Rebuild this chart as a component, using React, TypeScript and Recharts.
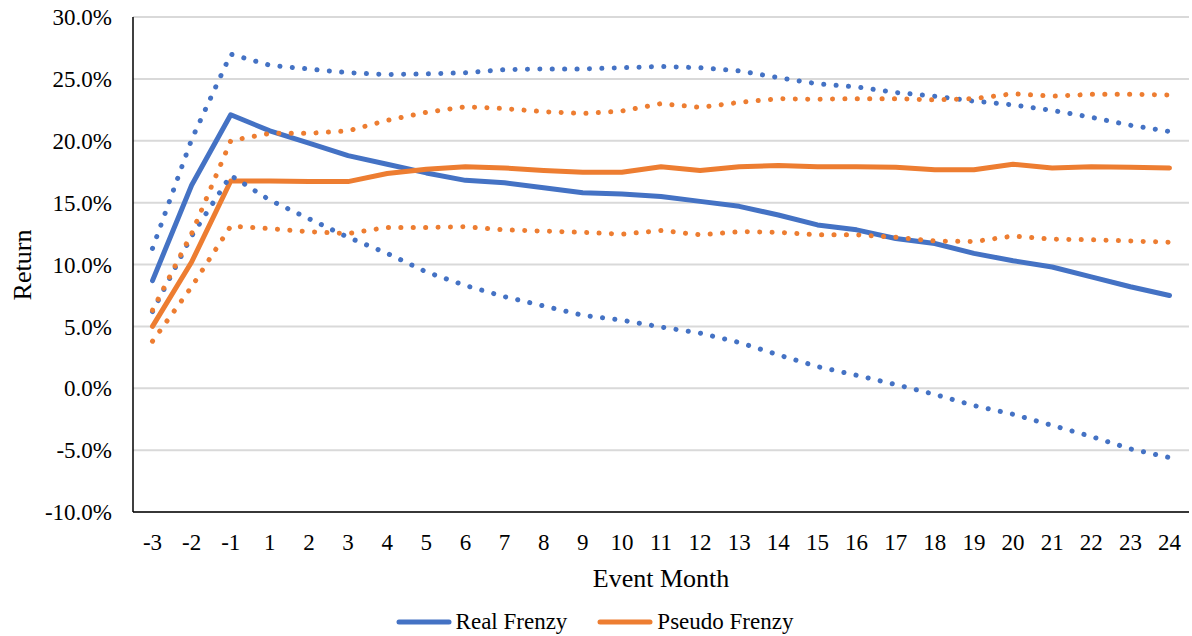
import React from "react";
import {
  LineChart,
  Line,
  XAxis,
  YAxis,
  CartesianGrid,
  Legend,
  Label,
} from "recharts";

// event months (x categories)
const months = [
  "-3", "-2", "-1", "1", "2", "3", "4", "5", "6", "7", "8", "9", "10", "11",
  "12", "13", "14", "15", "16", "17", "18", "19", "20", "21", "22", "23", "24",
];

// returns in %
const realMean = [
  8.7, 16.4, 22.1, 20.8, 19.8, 18.8, 18.1, 17.4, 16.8, 16.6, 16.2, 15.8, 15.7, 15.5,
  15.1, 14.7, 14.0, 13.2, 12.8, 12.1, 11.7, 10.9, 10.3, 9.8, 9.0, 8.2, 7.5,
];
const realUpper = [
  11.3, 20.1, 27.0, 26.1, 25.8, 25.5, 25.35, 25.4, 25.5, 25.75, 25.8, 25.8, 25.9, 26.0,
  25.9, 25.65, 25.1, 24.6, 24.35, 23.9, 23.6, 23.2, 22.9, 22.45, 21.9, 21.25, 20.75,
];
const realLower = [
  6.2, 12.3, 17.2, 15.2, 13.7, 12.2, 10.9, 9.4, 8.3, 7.4, 6.65, 5.9, 5.5, 4.95,
  4.45, 3.7, 2.7, 1.75, 1.05, 0.3, -0.5, -1.4, -2.1, -3.0, -3.9, -4.9, -5.6,
];
const pseudoMean = [
  5.0, 10.2, 16.75, 16.75, 16.7, 16.7, 17.35, 17.7, 17.9, 17.8, 17.6, 17.45, 17.45, 17.9,
  17.6, 17.9, 18.0, 17.9, 17.9, 17.85, 17.65, 17.65, 18.1, 17.8, 17.9, 17.85, 17.8,
];
const pseudoUpper = [
  6.3, 12.5, 20.0, 20.6, 20.6, 20.8, 21.65, 22.3, 22.75, 22.6, 22.35, 22.2, 22.4, 23.0,
  22.7, 23.1, 23.4, 23.35, 23.4, 23.4, 23.3, 23.4, 23.8, 23.6, 23.75, 23.75, 23.7,
];
const pseudoLower = [
  3.8, 8.2, 13.1, 12.9, 12.65, 12.5, 13.0, 13.0, 13.05, 12.8, 12.7, 12.6, 12.45, 12.75,
  12.4, 12.65, 12.6, 12.4, 12.4, 12.2, 11.9, 11.85, 12.3, 12.05, 12.0, 11.9, 11.8,
];

const yTicks = [-10, -5, 0, 5, 10, 15, 20, 25, 30];

const BLUE = "#4472C4";
const ORANGE = "#ED7D31";
const FONT = '"Liberation Serif", "Times New Roman", serif';

const data = months.map((m, i) => ({
  month: m,
  realMean: realMean[i],
  realUpper: realUpper[i],
  realLower: realLower[i],
  pseudoMean: pseudoMean[i],
  pseudoUpper: pseudoUpper[i],
  pseudoLower: pseudoLower[i],
}));

const legendItems = [
  { name: "Real Frenzy", color: BLUE },
  { name: "Pseudo Frenzy", color: ORANGE },
];

const renderLegend = () => (
  <div
    style={{
      display: "flex",
      justifyContent: "center",
      alignItems: "center",
      height: 28,
      fontFamily: FONT,
      fontSize: 23,
      color: "#000",
    }}
  >
    {legendItems.map((it, i) => (
      <div key={it.name} style={{ display: "flex", alignItems: "center", marginLeft: i ? 30 : 0 }}>
        <svg width={56} height={10}>
          <line x1={3} y1={5} x2={53} y2={5} stroke={it.color} strokeWidth={5} strokeLinecap="round" />
        </svg>
        <span style={{ marginLeft: 4 }}>{it.name}</span>
      </div>
    ))}
  </div>
);

const tickStyle = { fill: "#000", fontSize: 23, fontFamily: FONT };
const border = { stroke: "#000", strokeWidth: 1.5 };
const xPad = { left: 19.5, right: 19.5 };
const solid = { strokeWidth: 5, strokeLinecap: "round" as const, strokeLinejoin: "round" as const };
const dotted = { strokeWidth: 5, strokeDasharray: "0.1 12.3", strokeLinecap: "round" as const };

export default function App() {
  return (
    <div style={{ position: "absolute", left: 0, top: 0, background: "#fff" }}>
      <LineChart
        width={1192}
        height={636}
        data={data}
        margin={{ top: 17, right: 3, bottom: 0, left: 0 }}
      >
        <CartesianGrid vertical={false} stroke="#d9d9d9" strokeWidth={2} />
        <XAxis
          dataKey="month"
          interval={0}
          height={96}
          padding={xPad}
          tickSize={0}
          tickMargin={22}
          tickLine={false}
          axisLine={border}
          tick={tickStyle}
        >
          <Label
            content={(props: any) => {
              const vb = props.viewBox || {};
              return (
                <text
                  x={vb.x + vb.width / 2}
                  y={vb.y + 75}
                  textAnchor="middle"
                  fontSize={26}
                  fontFamily={FONT}
                  fill="#000"
                >
                  Event Month
                </text>
              );
            }}
          />
        </XAxis>
        <XAxis
          xAxisId="top"
          orientation="top"
          dataKey="month"
          height={0}
          padding={xPad}
          tick={false}
          tickLine={false}
          axisLine={border}
        />
        <YAxis
          domain={[-10, 30]}
          ticks={yTicks}
          width={133}
          tickSize={0}
          tickMargin={21}
          tickLine={false}
          axisLine={border}
          tick={tickStyle}
          tickFormatter={(v) => `${Number(v).toFixed(1)}%`}
        >
          <Label
            content={() => (
              <text
                x={0}
                y={0}
                transform="translate(31, 265) rotate(-90)"
                textAnchor="middle"
                fontSize={26}
                fontFamily={FONT}
                fill="#000"
              >
                Return
              </text>
            )}
          />
        </YAxis>
        <YAxis
          yAxisId="right"
          orientation="right"
          domain={[-10, 30]}
          width={0}
          tick={false}
          tickLine={false}
          axisLine={border}
        />

        <Line dataKey="realMean" name="Real Frenzy" type="linear" stroke={BLUE} {...solid}
          dot={false} activeDot={false} isAnimationActive={false} />
        <Line dataKey="pseudoMean" name="Pseudo Frenzy" type="linear" stroke={ORANGE} {...solid}
          dot={false} activeDot={false} isAnimationActive={false} />
        <Line dataKey="realUpper" type="linear" stroke={BLUE} {...dotted}
          dot={false} activeDot={false} legendType="none" isAnimationActive={false} />
        <Line dataKey="realLower" type="linear" stroke={BLUE} {...dotted}
          dot={false} activeDot={false} legendType="none" isAnimationActive={false} />
        <Line dataKey="pseudoUpper" type="linear" stroke={ORANGE} {...dotted}
          dot={false} activeDot={false} legendType="none" isAnimationActive={false} />
        <Line dataKey="pseudoLower" type="linear" stroke={ORANGE} {...dotted}
          dot={false} activeDot={false} legendType="none" isAnimationActive={false} />

        <Legend
          verticalAlign="bottom"
          content={renderLegend}
          wrapperStyle={{ height: 28 }}
        />
      </LineChart>
    </div>
  );
}
